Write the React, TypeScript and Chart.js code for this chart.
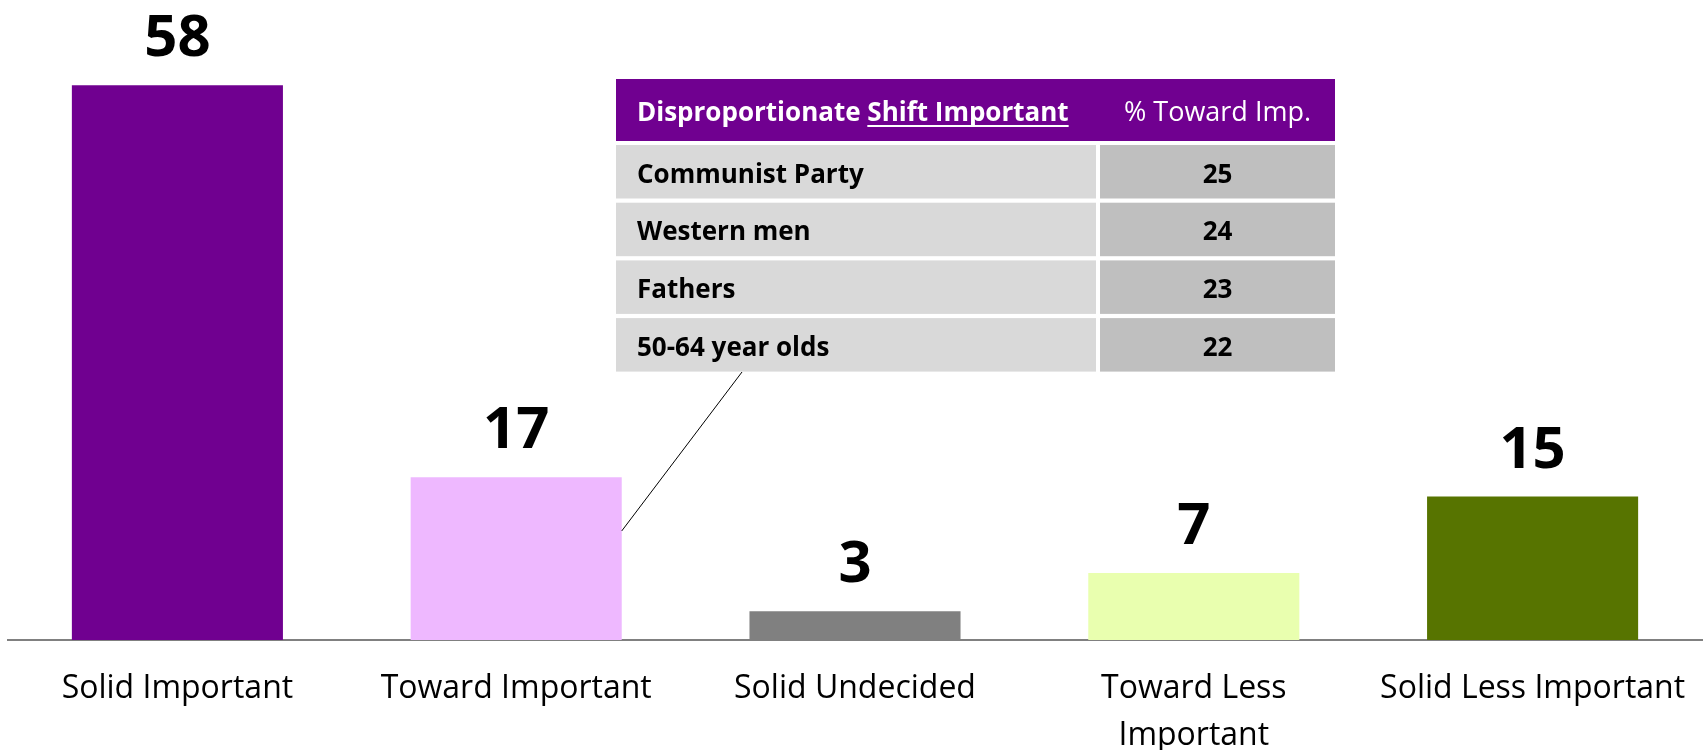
import React, { useEffect, useRef } from "react";
import { Chart, registerables } from "chart.js";

Chart.register(...registerables);

const categories: (string | string[])[] = [
  "Solid Important",
  "Toward Important",
  "Solid Undecided",
  ["Toward Less", "Important"],
  "Solid Less Important",
];
const values = [58, 17, 3, 7, 15];
const barColors = ["#700090", "#EEB8FF", "#808080", "#E9FFAF", "#577400"];

const headerLead = "Disproportionate ";
const headerUnderlined = "Shift Important";
const headerRight = "% Toward Imp.";
const tableGroups = ["Communist Party", "Western men", "Fathers", "50-64 year olds"];
const tableValues = [25, 24, 23, 22];
const leaderValue = 11.4;

const FONT = '"Open Sans", "DejaVu Sans", sans-serif';

const overlayPlugin = {
  id: "overlay",
  afterDatasetsDraw(chart: any) {
    const ctx = chart.ctx as CanvasRenderingContext2D;
    const meta = chart.getDatasetMeta(0);
    ctx.save();

    // value labels
    ctx.fillStyle = "#000";
    ctx.font = `bold 58px ${FONT}`;
    ctx.textAlign = "center";
    ctx.textBaseline = "alphabetic";
    meta.data.forEach((el: any, i: number) => {
      ctx.fillText(String(values[i]), el.x, el.y - 29);
    });

    // leader line
    const bar = meta.data[1];
    const yScale = chart.scales.y;
    ctx.strokeStyle = "#000";
    ctx.lineWidth = 1;
    ctx.beginPath();
    ctx.moveTo(bar.x + bar.width / 2, yScale.getPixelForValue(leaderValue));
    ctx.lineTo(742, 372);
    ctx.stroke();

    // table
    const left = 616;
    const right = 1335;
    const divL = 1096;
    const divR = 1100;
    const textX = 637;
    const rightCenter = (divR + right) / 2;

    ctx.fillStyle = "#700090";
    ctx.fillRect(left, 79, right - left, 62);

    ctx.fillStyle = "#fff";
    ctx.textAlign = "left";
    ctx.font = `bold 26px ${FONT}`;
    ctx.fillText(headerLead, textX, 121);
    const leadW = ctx.measureText(headerLead).width;
    ctx.fillText(headerUnderlined, textX + leadW, 121);
    const ulW = ctx.measureText(headerUnderlined).width;
    ctx.fillRect(textX + leadW, 125, ulW, 2);

    ctx.textAlign = "center";
    ctx.font = `27px ${FONT}`;
    ctx.fillText(headerRight, rightCenter, 121);

    tableGroups.forEach((g, i) => {
      const top = 145 + i * 57.7;
      const h = 53.5;
      ctx.fillStyle = "#D9D9D9";
      ctx.fillRect(left, top, divL - left, h);
      ctx.fillStyle = "#BFBFBF";
      ctx.fillRect(divR, top, right - divR, h);
      ctx.fillStyle = "#000";
      ctx.font = `bold 26px ${FONT}`;
      ctx.textAlign = "left";
      ctx.fillText(g, textX, top + 37.5);
      ctx.textAlign = "center";
      ctx.fillText(String(tableValues[i]), rightCenter, top + 37.5);
    });

    ctx.restore();
  },
};

export default function App() {
  const ref = useRef<HTMLCanvasElement | null>(null);

  useEffect(() => {
    if (!ref.current) return;
    const chart = new Chart(ref.current, {
      type: "bar",
      data: {
        labels: categories as any,
        datasets: [
          {
            data: values,
            backgroundColor: barColors,
            borderWidth: 0,
            categoryPercentage: 1,
            barPercentage: 0.623,
          },
        ],
      },
      options: {
        responsive: false,
        animation: false,
        devicePixelRatio: 1,
        layout: { padding: { top: 66, left: 8, right: 4, bottom: 0 } },
        plugins: {
          legend: { display: false },
          tooltip: { enabled: false },
        },
        scales: {
          x: {
            grid: { display: false, drawTicks: false },
            border: { display: true, color: "#808080", width: 2 },
            ticks: {
              color: "#000",
              font: { family: FONT, size: 32, lineHeight: 1.45 },
              padding: 26,
              autoSkip: false,
              maxRotation: 0,
              minRotation: 0,
            },
            afterFit(scale: any) {
              scale.height = 110;
              scale.paddingLeft = 0;
              scale.paddingRight = 0;
            },
          },
          y: {
            display: false,
            min: 0,
            max: 60,
          },
        },
      },
      plugins: [overlayPlugin],
    });
    return () => chart.destroy();
  }, []);

  return (
    <div style={{ position: "absolute", left: 0, top: 0, width: 1706, height: 750, background: "#fff" }}>
      <canvas ref={ref} width={1706} height={750} style={{ display: "block" }} />
    </div>
  );
}
